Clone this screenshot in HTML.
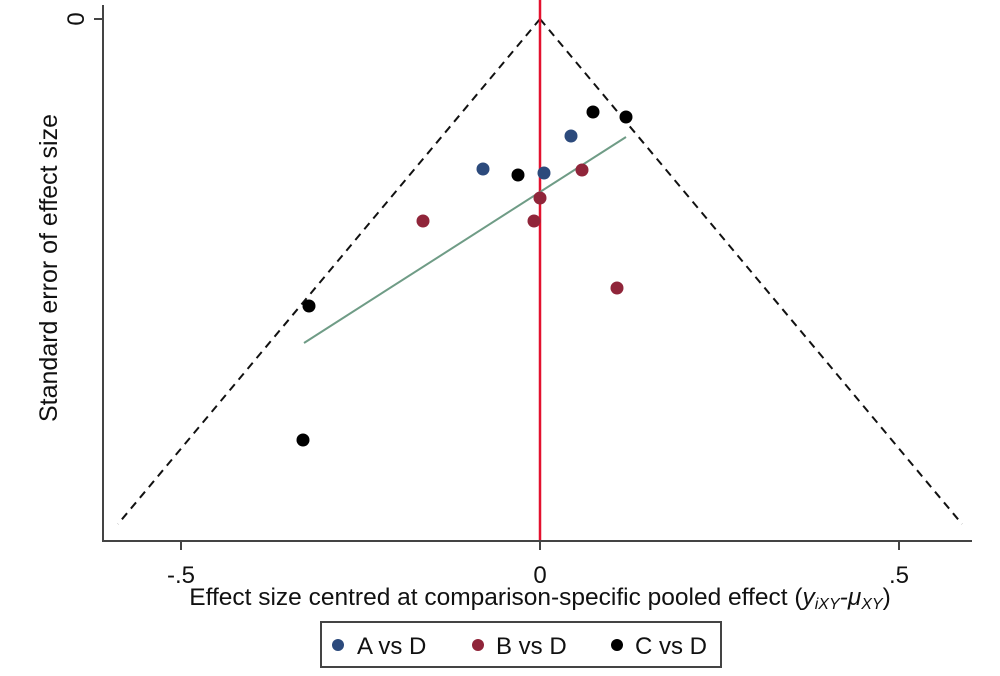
<!DOCTYPE html>
<html><head><meta charset="utf-8"><style>
body{margin:0;background:#fff;}
svg{display:block;font-family:"Liberation Sans",Arial,sans-serif;}
</style></head><body>
<svg width="1000" height="676" viewBox="0 0 1000 676">
<rect width="1000" height="676" fill="#fff"/>
<line x1="103" y1="5" x2="103" y2="541" stroke="#444" stroke-width="2"/>
<line x1="102" y1="541" x2="972" y2="541" stroke="#444" stroke-width="2"/>
<line x1="94" y1="19" x2="103" y2="19" stroke="#444" stroke-width="2"/>
<line x1="181" y1="541" x2="181" y2="550" stroke="#444" stroke-width="2"/>
<line x1="540" y1="541" x2="540" y2="550" stroke="#444" stroke-width="2"/>
<line x1="899" y1="541" x2="899" y2="550" stroke="#444" stroke-width="2"/>
<text transform="translate(84,19) rotate(-90)" text-anchor="middle" font-size="24" fill="#111">0</text>
<text x="181" y="583" text-anchor="middle" font-size="24" fill="#111">-.5</text>
<text x="540" y="583" text-anchor="middle" font-size="24" fill="#111">0</text>
<text x="899" y="583" text-anchor="middle" font-size="24" fill="#111">.5</text>
<text transform="translate(57,268) rotate(-90)" text-anchor="middle" font-size="25" fill="#111">Standard error of effect size</text>
<text x="540" y="605" text-anchor="middle" font-size="24.5" fill="#111">Effect size centred at comparison-specific pooled effect (<tspan font-style="italic">y<tspan font-size="16" dy="4">iXY</tspan><tspan dy="-4">-μ</tspan><tspan font-size="16" dy="4">XY</tspan></tspan><tspan dy="-4">)</tspan></text>
<line x1="540" y1="19" x2="118" y2="524" stroke="#111" stroke-width="2" stroke-dasharray="8,6"/>
<line x1="540" y1="19" x2="962" y2="524" stroke="#111" stroke-width="2" stroke-dasharray="8,6"/>
<line x1="540" y1="0" x2="540" y2="540" stroke="#e3112e" stroke-width="2.5"/>
<line x1="304" y1="343" x2="626" y2="137" stroke="#6f9c86" stroke-width="2"/>
<g fill="#2c4a7c"><circle cx="483" cy="169" r="6.5"/><circle cx="544" cy="173" r="6.5"/><circle cx="571" cy="136" r="6.5"/></g>
<g fill="#90253a"><circle cx="423" cy="221" r="6.5"/><circle cx="540" cy="198" r="6.5"/><circle cx="534" cy="221" r="6.5"/><circle cx="582" cy="170" r="6.5"/><circle cx="617" cy="288" r="6.5"/></g>
<g fill="#000"><circle cx="593" cy="112" r="6.5"/><circle cx="626" cy="117" r="6.5"/><circle cx="518" cy="175" r="6.5"/><circle cx="309" cy="306" r="6.5"/><circle cx="303" cy="440" r="6.5"/></g>
<rect x="321" y="622" width="400" height="45" fill="#fff" stroke="#444" stroke-width="2"/>
<circle cx="338" cy="645" r="6" fill="#2c4a7c"/>
<text x="357" y="654" font-size="24" fill="#111">A vs D</text>
<circle cx="478" cy="645" r="6" fill="#90253a"/>
<text x="496" y="654" font-size="24" fill="#111">B vs D</text>
<circle cx="617" cy="645" r="6" fill="#000"/>
<text x="635" y="654" font-size="24" fill="#111">C vs D</text>
</svg>
</body></html>
